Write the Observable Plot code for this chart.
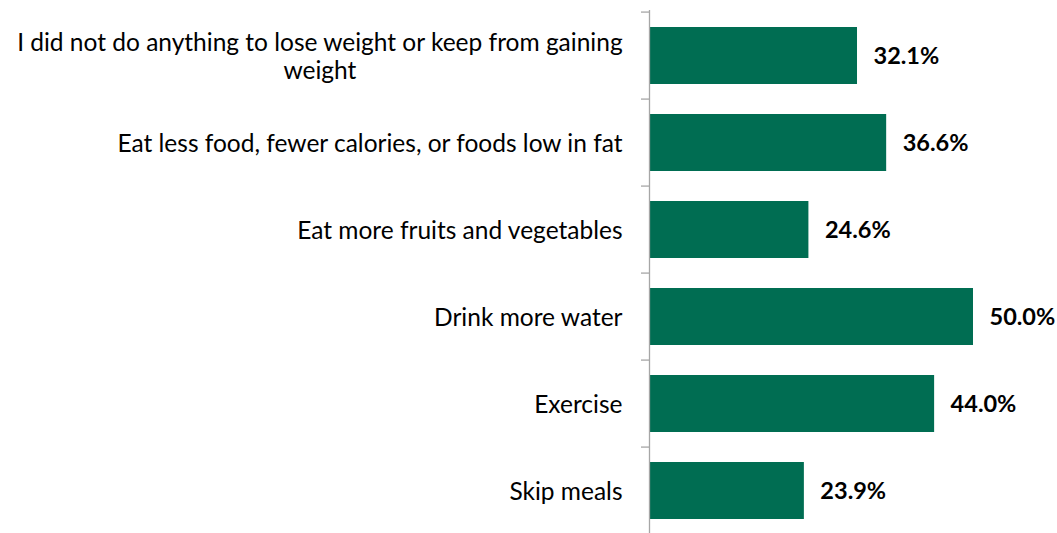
<!DOCTYPE html>
<html>
<head>
<meta charset="utf-8">
<script src="https://cdn.jsdelivr.net/npm/d3@7"></script>
<script src="https://cdn.jsdelivr.net/npm/@observablehq/plot@0.6"></script>
<style>
  html, body { margin: 0; padding: 0; background: #fff; }
  #chart svg { display: block; }
</style>
</head>
<body>
<div id="chart"></div>
<script>
const categories = [
  "I did not do anything to lose weight or keep from gaining\nweight",
  "Eat less food, fewer calories, or foods low in fat",
  "Eat more fruits and vegetables",
  "Drink more water",
  "Exercise",
  "Skip meals"
];
const values = [32.1, 36.6, 24.6, 50.0, 44.0, 23.9];
const valueLabels = ["32.1%", "36.6%", "24.6%", "50.0%", "44.0%", "23.9%"];

const data = categories.map((c, i) => ({category: c, value: values[i], label: valueLabels[i]}));

const width = 1057, height = 533;
const marginTop = 10, marginBottom = -4, marginLeft = 649, marginRight = 84;
const pitch = (height - marginTop - marginBottom) / categories.length;
const font = "Lato, 'Open Sans', sans-serif";

const chart = Plot.plot({
  width, height, marginTop, marginBottom, marginLeft, marginRight,
  style: {fontFamily: font, background: "#fff"},
  x: {domain: [0, 50], axis: null},
  y: {domain: categories, padding: 0.34, paddingOuter: 0.17, label: null},
  marks: [
    Plot.axisY({tickSize: 0, tickPadding: 27, fontSize: 24.5, fill: "#000", lineHeight: 1.14, tickFormat: d => d}),
    Plot.barX(data, {y: "category", x: "value", fill: "#006d52"}),
    Plot.text(data, {y: "category", x: "value", text: "label", textAnchor: "start", dx: 16, fontSize: 23.5, fontWeight: "bold", fill: "#000"}),
    Plot.ruleX([0], {stroke: "#a6a6a6", strokeWidth: 1.3}),
    Plot.ruleY(categories, {y: d => d, x1: 0, x2: -8 * 50 / (width - marginLeft - marginRight), dy: -pitch / 2, stroke: "#a6a6a6", strokeWidth: 1.3})
  ]
});
document.getElementById("chart").appendChild(chart);

// center multi-line tick labels (first category wraps and is centered)
chart.querySelectorAll("g[aria-label='y-axis tick label'] text").forEach(t => {
  const spans = t.querySelectorAll("tspan");
  if (spans.length > 1) {
    const bb = t.getBBox();
    const cx = bb.x + bb.width / 2;
    t.setAttribute("text-anchor", "middle");
    t.setAttribute("x", cx);
    spans.forEach(s => s.setAttribute("x", cx));
  }
});
</script>
</body>
</html>
